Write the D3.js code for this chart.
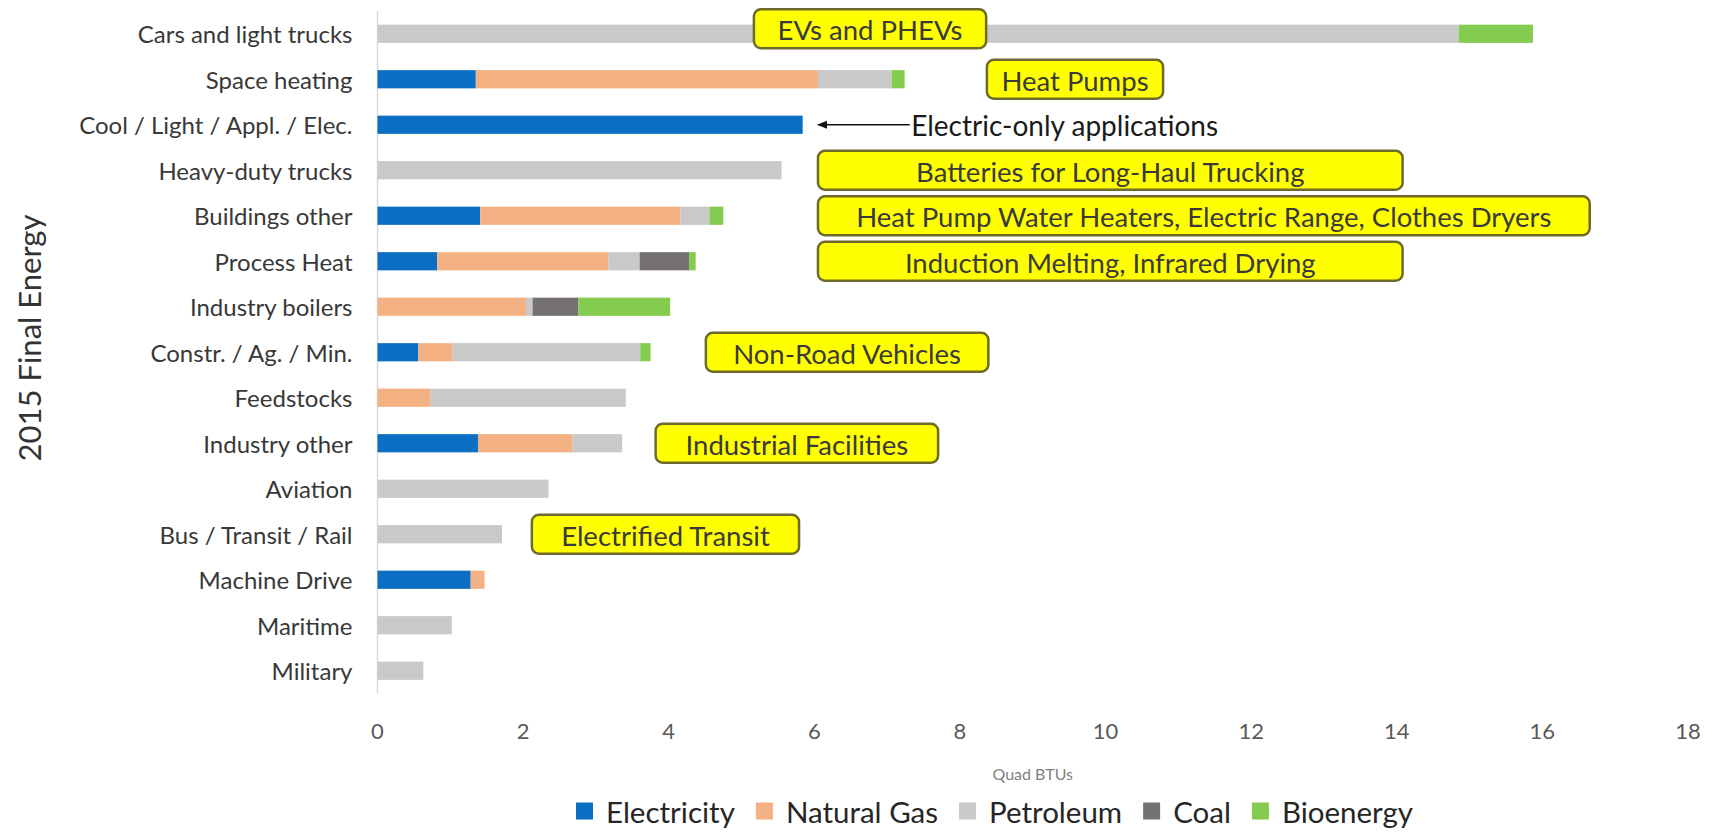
<!DOCTYPE html>
<html>
<head>
<meta charset="utf-8">
<script src="https://cdn.jsdelivr.net/npm/d3@7"></script>
<style>
    body { margin: 0; background: white; }
    text { font-family: Lato, "Open Sans", sans-serif; }
</style>
</head>
<body>
<div id="chart"></div>
<script>
// data
const categories = [
    "Cars and light trucks", "Space heating", "Cool / Light / Appl. / Elec.",
    "Heavy-duty trucks", "Buildings other", "Process Heat", "Industry boilers",
    "Constr. / Ag. / Min.", "Feedstocks", "Industry other", "Aviation",
    "Bus / Transit / Rail", "Machine Drive", "Maritime", "Military"
];
const electricity = [0, 1.35, 5.84, 0, 1.41, 0.82, 0, 0.56, 0, 1.38, 0, 0, 1.28, 0, 0];
const naturalGas  = [0, 4.70, 0, 0, 2.75, 2.35, 2.04, 0.47, 0.73, 1.30, 0, 0, 0.19, 0, 0];
const petroleum   = [14.85, 1.01, 0, 5.55, 0.40, 0.43, 0.09, 2.58, 2.68, 0.68, 2.35, 1.71, 0, 1.02, 0.63];
const coal        = [0, 0, 0, 0, 0, 0.68, 0.63, 0, 0, 0, 0, 0, 0, 0, 0];
const bioenergy   = [1.02, 0.18, 0, 0, 0.19, 0.09, 1.26, 0.14, 0, 0, 0, 0, 0, 0, 0];

const seriesNames = ["Electricity", "Natural Gas", "Petroleum", "Coal", "Bioenergy"];
const seriesColors = ["#0a6fc2", "#f4b183", "#c9c9c9", "#767171", "#84cc50"];
const xTicks = [0, 2, 4, 6, 8, 10, 12, 14, 16, 18];

// call-out boxes (extent in Quad BTUs, attached to a row)
const noteTexts = ["EVs and PHEVs", "Heat Pumps", "Batteries for Long-Haul Trucking",
    "Heat Pump Water Heaters, Electric Range, Clothes Dryers",
    "Induction Melting, Infrared Drying", "Non-Road Vehicles",
    "Industrial Facilities", "Electrified Transit"];
const noteRows = ["Cars and light trucks", "Space heating", "Heavy-duty trucks",
    "Buildings other", "Process Heat", "Constr. / Ag. / Min.",
    "Industry other", "Bus / Transit / Rail"];
const noteFrom = [5.17, 8.37, 6.05, 6.05, 6.05, 4.51, 3.82, 2.12];
const noteTo   = [8.36, 10.79, 14.08, 16.65, 14.08, 8.39, 7.70, 5.79];

// config
const width = 1721;
const height = 832;

const x = d3.scaleLinear()
    .domain([0, 18])
    .range([377.5, 1688]);
const y = d3.scaleBand()
    .domain(categories)
    .range([11, 693.5])
    .paddingInner(0.6)
    .paddingOuter(0.3);

const rows = categories.map((c, i) => ({
    category: c,
    Electricity: electricity[i],
    "Natural Gas": naturalGas[i],
    Petroleum: petroleum[i],
    Coal: coal[i],
    Bioenergy: bioenergy[i]
}));
const stacked = d3.stack().keys(seriesNames)(rows);

const draw = () => {
    const svg = d3.select("#chart")
        .append("svg")
        .attr("width", width)
        .attr("height", height)
        .style("background-color", "white");

    // vertical axis line
    svg.append("line")
        .attr("x1", x(0)).attr("x2", x(0))
        .attr("y1", y.range()[0]).attr("y2", y.range()[1])
        .attr("stroke", "#d9d9d9")
        .attr("stroke-width", 1.5);

    // bars
    svg.selectAll("g.series")
        .data(stacked)
        .enter().append("g")
        .attr("class", "series")
        .attr("fill", (d, i) => seriesColors[i])
        .selectAll("rect")
        .data(d => d)
        .enter().append("rect")
        .attr("x", d => x(d[0]))
        .attr("y", d => y(d.data.category))
        .attr("width", d => x(d[1]) - x(d[0]))
        .attr("height", y.bandwidth());

    // category labels
    svg.selectAll("text.cat")
        .data(categories)
        .enter().append("text")
        .attr("class", "cat")
        .attr("x", x(0) - 25)
        .attr("y", d => y(d) + y.bandwidth() / 2)
        .attr("text-anchor", "end")
        .attr("dominant-baseline", "central")
        .attr("font-size", 24)
        .attr("fill", "#383838")
        .text(d => d);

    // x tick labels
    svg.selectAll("text.tick")
        .data(xTicks)
        .enter().append("text")
        .attr("class", "tick")
        .attr("x", d => x(d))
        .attr("y", 730)
        .attr("text-anchor", "middle")
        .attr("dominant-baseline", "central")
        .attr("font-size", 22)
        .attr("fill", "#595959")
        .text(d => d);

    svg.append("text")
        .attr("x", (x.range()[0] + x.range()[1]) / 2)
        .attr("y", 773)
        .attr("text-anchor", "middle")
        .attr("dominant-baseline", "central")
        .attr("font-size", 16)
        .attr("fill", "#7f7f7f")
        .text("Quad BTUs");

    // y title
    svg.append("text")
        .attr("transform", "translate(29,338) rotate(-90)")
        .attr("text-anchor", "middle")
        .attr("dominant-baseline", "central")
        .attr("font-size", 31)
        .attr("fill", "#333")
        .text("2015 Final Energy");

    // arrow for electric-only row
    svg.append("defs").append("marker")
        .attr("id", "head")
        .attr("viewBox", "0 0 10 10")
        .attr("refX", 9).attr("refY", 5)
        .attr("markerWidth", 7).attr("markerHeight", 7)
        .attr("orient", "auto")
        .append("path")
        .attr("d", "M0,1 L10,5 L0,9 Z")
        .attr("fill", "#111");
    const coolY = y("Cool / Light / Appl. / Elec.") + y.bandwidth() / 2;
    svg.append("line")
        .attr("x1", x(7.31)).attr("x2", x(6.05))
        .attr("y1", coolY).attr("y2", coolY)
        .attr("stroke", "#111")
        .attr("stroke-width", 1.5)
        .attr("marker-end", "url(#head)");
    svg.append("text")
        .attr("x", x(7.33))
        .attr("y", coolY)
        .attr("dominant-baseline", "central")
        .attr("font-size", 28)
        .attr("fill", "#1a1a1a")
        .text("Electric-only applications");

    // call-out boxes
    const notes = svg.selectAll("g.note")
        .data(noteTexts.map((t, i) => ({text: t, row: noteRows[i], from: noteFrom[i], to: noteTo[i]})))
        .enter().append("g")
        .attr("class", "note")
        .attr("transform", (d, i) => {
            const cy = y(d.row) + y.bandwidth() / 2 - (i === 0 ? 5 : 0);
            return `translate(0,${cy})`;
        });
    notes.append("rect")
        .attr("x", d => x(d.from))
        .attr("y", -19.5)
        .attr("width", d => x(d.to) - x(d.from))
        .attr("height", 39)
        .attr("rx", 7)
        .attr("fill", "#ffff00")
        .attr("stroke", "#6e6a2c")
        .attr("stroke-width", 2.5);
    notes.append("text")
        .attr("x", d => (x(d.from) + x(d.to)) / 2)
        .attr("y", 1)
        .attr("text-anchor", "middle")
        .attr("dominant-baseline", "central")
        .attr("font-size", 27.5)
        .attr("fill", "#3a3a3a")
        .text(d => d.text);

    // legend
    const legend = svg.append("g").attr("transform", "translate(576,811)");
    let lx = 0;
    seriesNames.forEach((name, i) => {
        legend.append("rect")
            .attr("x", lx).attr("y", -8.5)
            .attr("width", 17).attr("height", 17)
            .attr("fill", seriesColors[i]);
        const t = legend.append("text")
            .attr("x", lx + 30)
            .attr("y", 0)
            .attr("dominant-baseline", "central")
            .attr("font-size", 29.5)
            .attr("fill", "#262626")
            .text(name);
        lx += 30 + t.node().getComputedTextLength() + 21;
    });
}

document.addEventListener("DOMContentLoaded", () => {
    draw()
})
</script>
</body>
</html>
